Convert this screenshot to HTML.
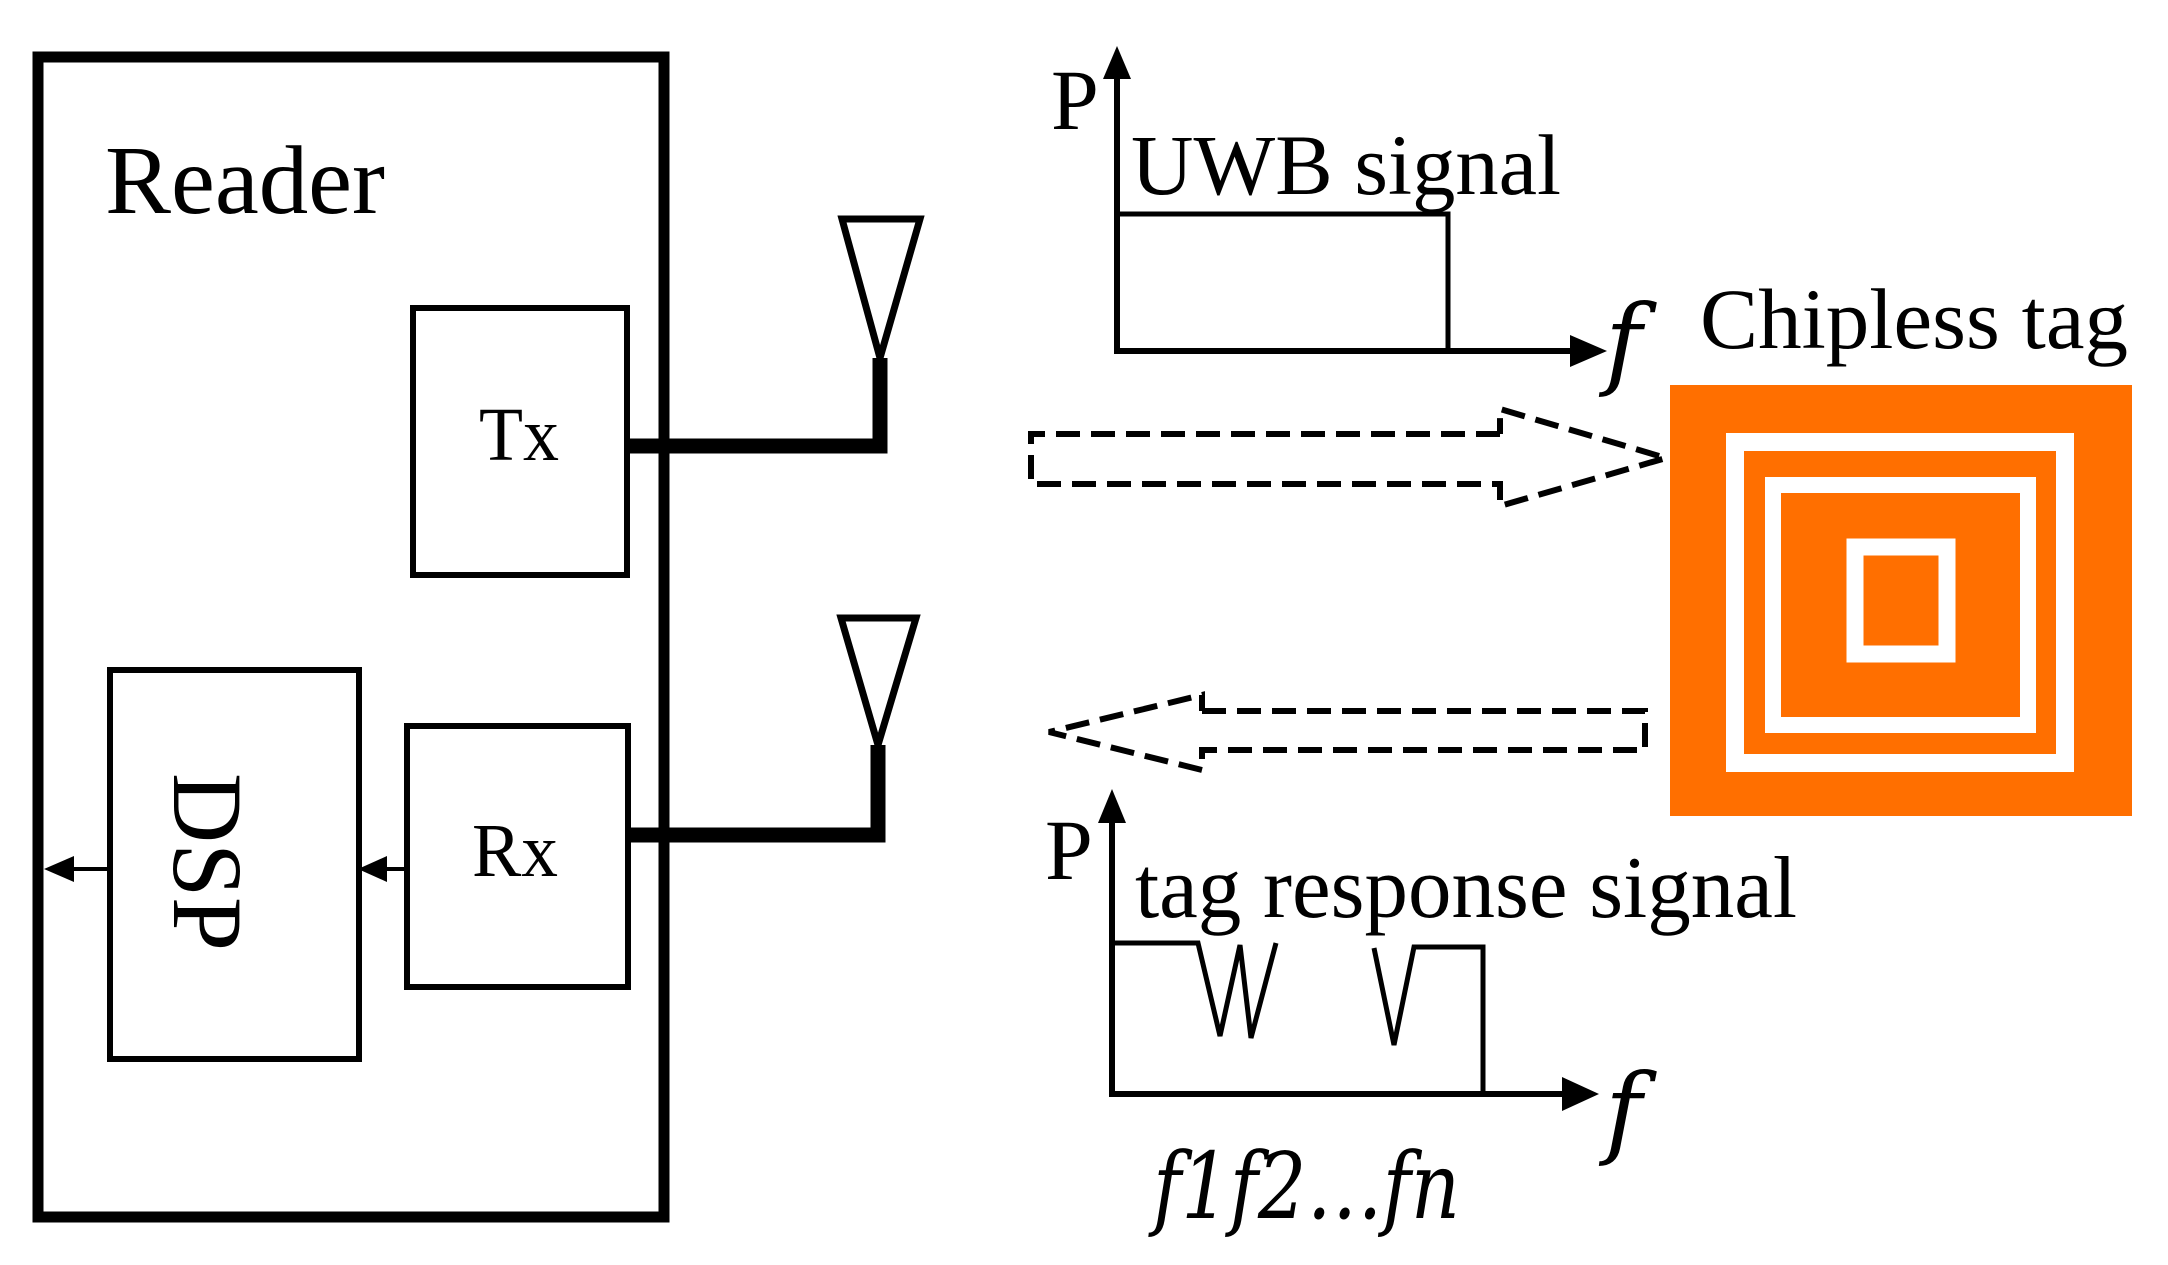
<!DOCTYPE html>
<html><head><meta charset="utf-8"><style>html,body{margin:0;padding:0;background:#fff}svg{display:block}</style></head>
<body>
<svg width="2168" height="1265" viewBox="0 0 2168 1265" xmlns="http://www.w3.org/2000/svg" font-family="'Liberation Serif', serif">
<!-- Reader box -->
<rect x="38" y="57" width="626" height="1160" fill="none" stroke="#000" stroke-width="11"/>
<text x="105" y="213" font-size="97" textLength="280" lengthAdjust="spacingAndGlyphs">Reader</text>
<!-- Tx -->
<rect x="413" y="308" width="214" height="267" fill="none" stroke="#000" stroke-width="6"/>
<text x="479" y="460" font-size="76" textLength="80" lengthAdjust="spacingAndGlyphs">Tx</text>
<!-- Rx -->
<rect x="407" y="726" width="221" height="261" fill="none" stroke="#000" stroke-width="6"/>
<text x="472" y="876" font-size="76" textLength="86" lengthAdjust="spacingAndGlyphs">Rx</text>
<!-- DSP -->
<rect x="110" y="670" width="249" height="389" fill="none" stroke="#000" stroke-width="6"/>
<text x="0" y="0" font-size="100" text-anchor="middle" transform="translate(174,862) rotate(90)" textLength="178" lengthAdjust="spacingAndGlyphs">DSP</text>
<!-- arrows inside -->
<line x1="407" y1="869" x2="380" y2="869" stroke="#000" stroke-width="4"/>
<polygon points="358,869 387,856 387,882" fill="#000"/>
<line x1="110" y1="869" x2="68" y2="869" stroke="#000" stroke-width="4"/>
<polygon points="44,869 74,856 74,882" fill="#000"/>
<!-- Tx feed -->
<polyline points="628,446 880,446 880,358" fill="none" stroke="#000" stroke-width="15"/>
<polygon points="842,219 920,219 880,358" fill="none" stroke="#000" stroke-width="7"/>
<!-- Rx feed -->
<polyline points="628,835 878,835 878,745" fill="none" stroke="#000" stroke-width="15"/>
<polygon points="841,618 916,618 878,745" fill="none" stroke="#000" stroke-width="7"/>
<!-- top chart -->
<line x1="1117" y1="70" x2="1117" y2="351" stroke="#000" stroke-width="6"/>
<polygon points="1117,46 1103,79 1131,79" fill="#000"/>
<line x1="1114" y1="351" x2="1575" y2="351" stroke="#000" stroke-width="6"/>
<polygon points="1607,351 1570,335 1570,367" fill="#000"/>
<polyline points="1117,214 1448,214 1448,351" fill="none" stroke="#000" stroke-width="5"/>
<text x="1051" y="129" font-size="86">P</text>
<text x="1131" y="194" font-size="86" textLength="430" lengthAdjust="spacingAndGlyphs">UWB signal</text>
<text x="1605" y="376" font-size="100" font-style="italic" font-family="'DejaVu Serif', 'Liberation Serif', serif">f</text>
<!-- Chipless tag -->
<text x="1700" y="348" font-size="86" textLength="428" lengthAdjust="spacingAndGlyphs">Chipless tag</text>
<rect x="1670" y="385" width="462" height="431" fill="#FF6F00"/>
<rect x="1735" y="442" width="330" height="321" fill="none" stroke="#fff" stroke-width="18"/>
<rect x="1773" y="485" width="255" height="240" fill="none" stroke="#fff" stroke-width="16"/>
<rect x="1855" y="547" width="92" height="107" fill="none" stroke="#fff" stroke-width="17"/>
<!-- dashed arrows -->
<polyline points="1500,434 1031,434 1031,484 1500,484 1500,506 1666,458 1500,409 1500,434" fill="none" stroke="#000" stroke-width="6" stroke-dasharray="24,11"/>
<polyline points="1202,711 1645,711 1645,750 1202,750 1202,770 1049,732 1202,695 1202,711" fill="none" stroke="#000" stroke-width="6" stroke-dasharray="24,11"/>
<!-- bottom chart -->
<line x1="1112" y1="815" x2="1112" y2="1094" stroke="#000" stroke-width="6"/>
<polygon points="1112,789 1098,823 1126,823" fill="#000"/>
<line x1="1109" y1="1094" x2="1565" y2="1094" stroke="#000" stroke-width="6"/>
<polygon points="1599,1094 1562,1077 1562,1111" fill="#000"/>
<polyline points="1112,943 1198,943 1220,1036 1240,945 1251,1038 1276,943" fill="none" stroke="#000" stroke-width="5"/>
<polyline points="1374,948 1394,1045 1414,947 1483,947 1483,1094" fill="none" stroke="#000" stroke-width="5"/>
<text x="1045" y="879" font-size="86">P</text>
<text x="1135" y="917" font-size="88" textLength="662" lengthAdjust="spacingAndGlyphs">tag response signal</text>
<text x="1605" y="1145" font-size="100" font-style="italic" font-family="'DejaVu Serif', 'Liberation Serif', serif">f</text>
<text x="1153" y="1218" font-size="92" font-style="italic" font-family="'DejaVu Serif', 'Liberation Serif', serif" textLength="307" lengthAdjust="spacingAndGlyphs">f1f2…fn</text>
</svg>
</body></html>
